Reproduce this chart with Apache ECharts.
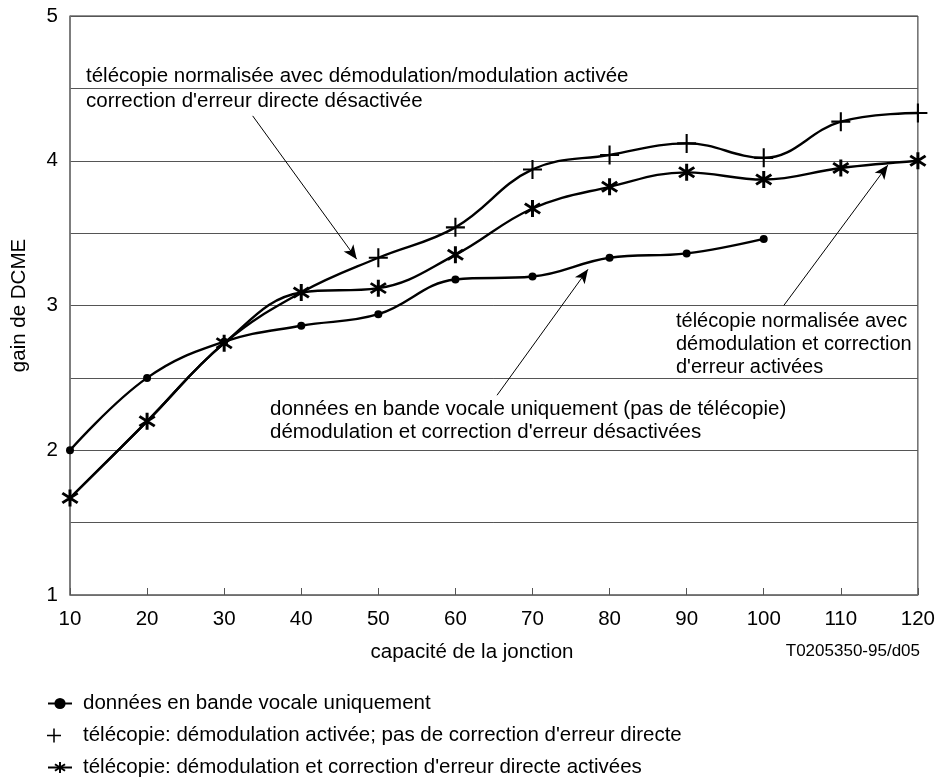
<!DOCTYPE html>
<html>
<head>
<meta charset="utf-8">
<script src="https://cdn.jsdelivr.net/npm/echarts@6/dist/echarts.min.js"></script>
<style>
  html, body { margin: 0; padding: 0; background: #fff; }
  #chart { width: 938px; height: 778px; }
</style>
</head>
<body>
<div id="chart"></div>
<script>
// Trunk capacity (x) and DCME gain per configuration
const capacities = [10, 20, 30, 40, 50, 60, 70, 80, 90, 100, 110, 120];
const voiceBandData = [2.0, 2.5, 2.75, 2.86, 2.94, 3.18, 3.2, 3.33, 3.36, 3.46];
const faxDemodNoFec = [1.67, 2.2, 2.74, 3.09, 3.33, 3.54, 3.94, 4.04, 4.12, 4.02, 4.27, 4.33];
const faxDemodFec = [1.67, 2.2, 2.74, 3.09, 3.12, 3.35, 3.67, 3.82, 3.92, 3.87, 3.95, 4.0];
// The first points of the "no FEC" curve coincide with the FEC curve; their markers are not repeated
const sharedPoints = 4;

const seriesNames = [
  'données en bande vocale uniquement',
  'télécopie: démodulation activée; pas de correction d\'erreur directe',
  'télécopie: démodulation et correction d\'erreur directe activées'
];

const yTicks = [1, 2, 3, 4, 5];

// Annotation arrows in data coordinates: [fromX, fromY, toX, toY]
const arrows = [
  [33.7, 4.31, 47.2, 3.32],
  [65.4, 2.38, 77.2, 3.25],
  [102.6, 3.0, 116.1, 3.97]
];

const FONT = '"Liberation Sans", Arial, sans-serif';
const FS = 20.5;

// Plus symbol built from two filled bars
const plusPath = 'path://M-1.1,-10 L1.1,-10 L1.1,10 L-1.1,10 Z M-10,-1.1 L10,-1.1 L10,1.1 L-10,1.1 Z';

// Six-armed asterisk built from three rotated bars
function asteriskPath() {
  const L = 10, t = 1.6;
  const parts = [];
  [90, 35, -35].forEach(function (deg) {
    const a = deg * Math.PI / 180;
    const dx = Math.cos(a), dy = Math.sin(a);
    const px = -dy, py = dx;
    const pts = [
      [L * dx + t * px, L * dy + t * py],
      [L * dx - t * px, L * dy - t * py],
      [-L * dx - t * px, -L * dy - t * py],
      [-L * dx + t * px, -L * dy + t * py]
    ];
    parts.push('M' + pts.map(function (p) { return p[0].toFixed(2) + ',' + p[1].toFixed(2); }).join(' L') + ' Z');
  });
  return 'path://' + parts.join(' ');
}
const starPath = asteriskPath();

function pairs(values) {
  return values.map(function (v, i) { return [capacities[i], v]; });
}

const chart = echarts.init(document.getElementById('chart'), null, { renderer: 'canvas' });

const lineStyle = { color: '#000', width: 2.4 };

function legendAt(top, item, textPad) {
  return {
    orient: 'vertical', left: 42, top: top,
    itemWidth: 24, itemHeight: 14,
    textStyle: { fontSize: FS, fontFamily: FONT, color: '#000', padding: [0, 0, 0, textPad] },
    data: [item]
  };
}

chart.setOption({
  animation: false,
  backgroundColor: '#fff',
  textStyle: { fontFamily: FONT, color: '#000' },
  grid: {
    left: 70, right: 20, top: 16, bottom: 183,
    show: true, borderColor: '#222', borderWidth: 1
  },
  xAxis: {
    type: 'value', min: 10, max: 120, interval: 10,
    axisLine: { show: true, lineStyle: { color: '#777', width: 1.5 } },
    axisTick: { show: true, inside: true, length: 7, lineStyle: { color: '#555', width: 1 } },
    axisLabel: { fontSize: FS, fontFamily: FONT, color: '#000', margin: 14 },
    splitLine: { show: false }
  },
  yAxis: {
    type: 'value', min: 1, max: 5, interval: 0.5,
    name: 'gain de DCME',
    nameLocation: 'middle', nameGap: 40, nameRotate: 90,
    nameTextStyle: { fontSize: FS, fontFamily: FONT, color: '#000' },
    axisLine: { show: true, lineStyle: { color: '#777', width: 1.5 } },
    axisTick: { show: false },
    axisLabel: {
      fontSize: FS, fontFamily: FONT, color: '#000', margin: 12,
      formatter: function (v) { return yTicks.indexOf(v) >= 0 ? String(v) : ''; }
    },
    splitLine: { show: true, lineStyle: { color: '#555', width: 1 } }
  },
  legend: [
    legendAt(688, { name: seriesNames[0] }, 6),
    legendAt(720, { name: seriesNames[1], icon: plusPath }, 12),
    legendAt(752, { name: seriesNames[2] }, 6)
  ],
  series: [
    {
      name: seriesNames[0], type: 'line', smooth: 0.4,
      data: pairs(voiceBandData),
      symbol: 'circle', symbolSize: 8,
      itemStyle: { color: '#000' },
      lineStyle: lineStyle,
      z: 3
    },
    {
      name: seriesNames[1], type: 'line', smooth: 0.4,
      data: pairs(faxDemodNoFec).map(function (p, i) {
        return i < sharedPoints ? { value: p, symbol: 'none' } : { value: p };
      }),
      symbol: plusPath, symbolSize: 19,
      itemStyle: { color: '#000' },
      lineStyle: lineStyle,
      z: 3,
      markLine: {
        silent: true, animation: false,
        symbol: ['none', 'arrow'], symbolSize: [9, 14],
        label: { show: false },
        lineStyle: { color: '#000', width: 1, type: 'solid' },
        data: arrows.map(function (a) {
          return [{ coord: [a[0], a[1]] }, { coord: [a[2], a[3]] }];
        })
      }
    },
    {
      name: seriesNames[2], type: 'line', smooth: 0.4,
      data: pairs(faxDemodFec),
      symbol: starPath, symbolSize: 17,
      itemStyle: { color: '#000' },
      lineStyle: lineStyle,
      z: 3
    }
  ],
  graphic: [
    { type: 'text', left: 86, top: 64, style: { text: 'télécopie normalisée avec démodulation/modulation activée\ncorrection d\'erreur directe désactivée', font: FS + 'px ' + FONT, fill: '#000', lineHeight: 25 } },
    { type: 'text', left: 270, top: 398, style: { text: 'données en bande vocale uniquement (pas de télécopie)\ndémodulation et correction d\'erreur désactivées', font: FS + 'px ' + FONT, fill: '#000', lineHeight: 23 } },
    { type: 'text', left: 676, top: 310, style: { text: 'télécopie normalisée avec\ndémodulation et correction\nd\'erreur activées', font: '20px ' + FONT, fill: '#000', lineHeight: 23 } },
    { type: 'text', x: 472, y: 652, style: { text: 'capacité de la jonction', font: FS + 'px ' + FONT, fill: '#000', align: 'center', verticalAlign: 'middle' } },
    { type: 'text', right: 18, top: 643, style: { text: 'T0205350-95/d05', font: '17px ' + FONT, fill: '#000' } }
  ]
});
</script>
</body>
</html>
